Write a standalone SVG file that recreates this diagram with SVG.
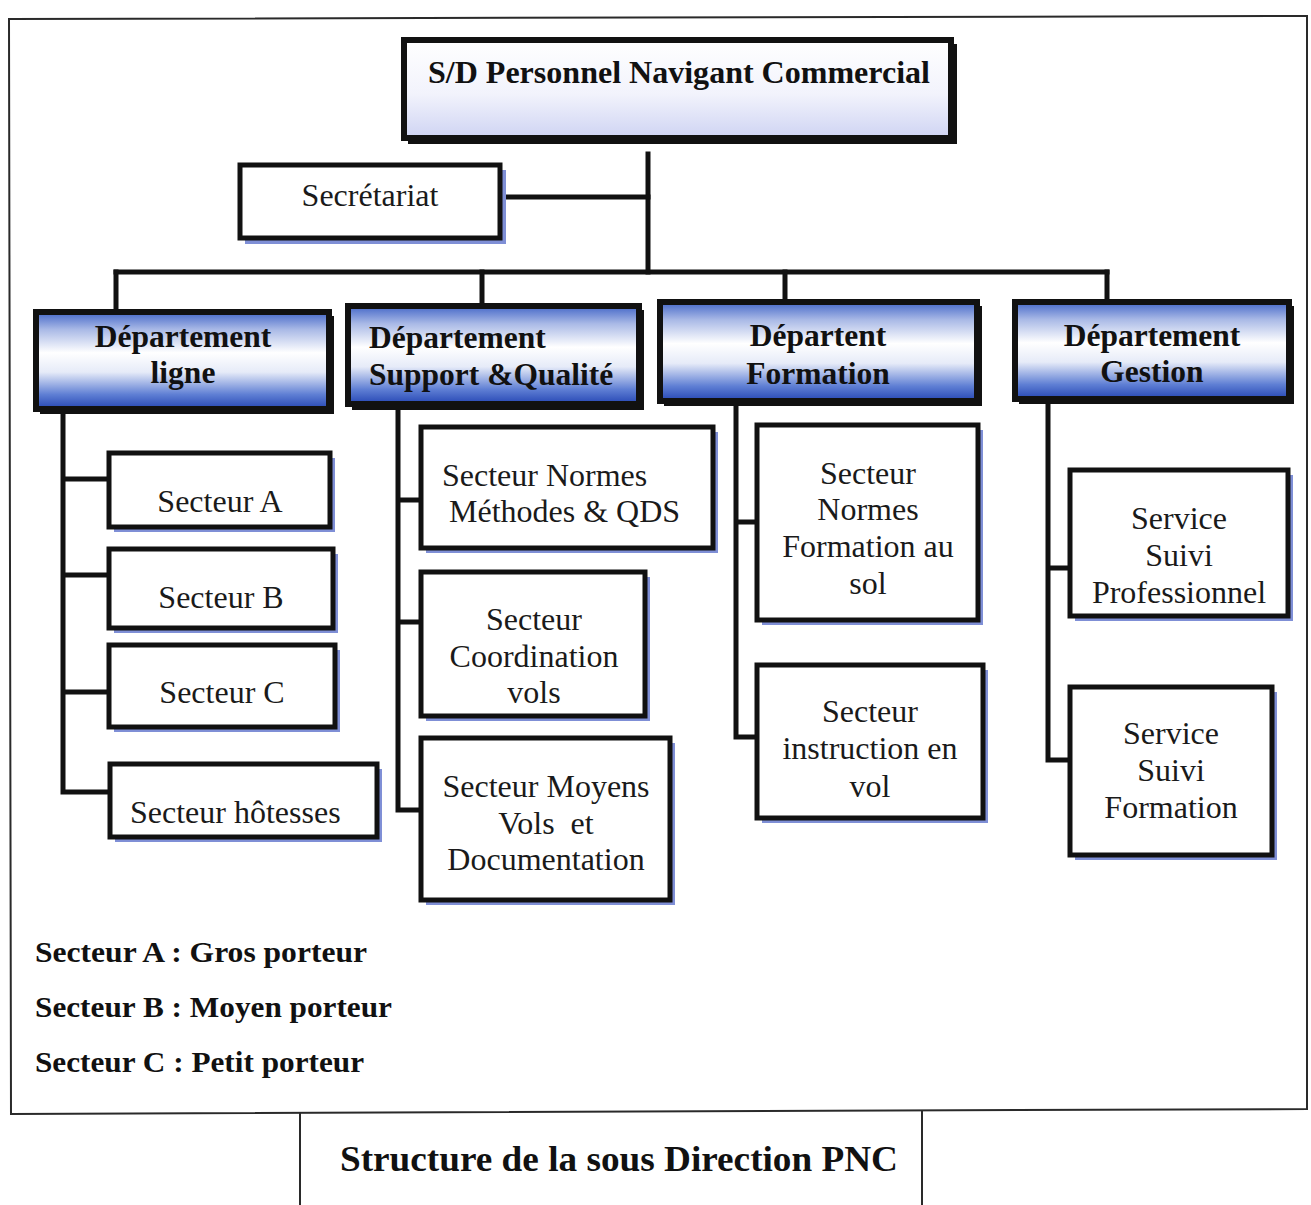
<svg xmlns="http://www.w3.org/2000/svg" width="1311" height="1205" viewBox="0 0 1311 1205">
  <defs>
    <linearGradient id="gTop" x1="0" y1="0" x2="0" y2="1">
      <stop offset="0" stop-color="#ffffff"/>
      <stop offset="0.55" stop-color="#f2f3fc"/>
      <stop offset="1" stop-color="#cfd4f3"/>
    </linearGradient>
    <linearGradient id="gDept" x1="0" y1="0" x2="0" y2="1">
      <stop offset="0" stop-color="#4467c8"/>
      <stop offset="0.18" stop-color="#a9b9e6"/>
      <stop offset="0.42" stop-color="#ffffff"/>
      <stop offset="0.62" stop-color="#e6ebf8"/>
      <stop offset="0.85" stop-color="#5f7fd4"/>
      <stop offset="1" stop-color="#2546b4"/>
    </linearGradient>
    <style>
      .frame { fill: none; stroke: #2a2a2a; stroke-width: 2; }
      .shadow { fill: #7f8fd6; }
      .dshadow { fill: #111; }
      .box { fill: #ffffff; stroke: #111; stroke-width: 5; }
      .dept { fill: url(#gDept); stroke: #111; stroke-width: 6; }
      .head { fill: url(#gTop); stroke: #111; stroke-width: 6; }
      .link { fill: none; stroke: #111; stroke-width: 5; stroke-linecap: square; }
      .bold { font-family: "Liberation Serif", "Times New Roman", serif; font-weight: bold; fill: #111; }
      .dtxt { font-size: 31.5px; }
      .reg { font-family: "Liberation Serif", "Times New Roman", serif; font-size: 32px; fill: #1a1a1a; }
      .c { text-anchor: middle; }
    </style>
  </defs>

  <rect width="1311" height="1205" fill="#ffffff"/>

  <!-- page frame and caption cell -->
  <path class="frame" d="M9 19 L1307 16 L1307 1109 L11 1114 Z"/>
  <path class="frame" d="M300 1113 L300 1205 M922 1111 L922 1205"/>

  <!-- connectors -->
  <g id="connectors">
    <path class="link" d="M648 154 L648 272"/>
    <path class="link" d="M500 197 L648 197"/>
    <path class="link" d="M116 272 L1107 272"/>
    <path class="link" d="M116 272 L116 312 M482 272 L482 306 M785 272 L785 302 M1107 272 L1107 302"/>
    <!-- Département ligne -->
    <path class="link" d="M63 410 L63 792 M63 479 L109 479 M63 575 L109 575 M63 692 L109 692 M63 792 L110 792"/>
    <!-- Département Support & Qualité -->
    <path class="link" d="M398 406 L398 810 M398 500 L421 500 M398 622 L421 622 M398 810 L421 810"/>
    <!-- Départent Formation -->
    <path class="link" d="M736 404 L736 737 M736 522 L757 522 M736 737 L757 737"/>
    <!-- Département Gestion -->
    <path class="link" d="M1048 402 L1048 760 M1048 568 L1070 568 M1048 760 L1070 760"/>
  </g>

  <!-- head -->
  <g id="n-head">
    <rect class="dshadow" x="408" y="44" width="549" height="100"/>
    <rect class="head" x="404" y="40" width="547" height="98"/>
    <text class="bold c" x="679" y="83" font-size="32" textLength="502" lengthAdjust="spacingAndGlyphs">S/D Personnel Navigant Commercial</text>
  </g>

  <g id="n-secretariat">
    <rect class="shadow" x="245" y="170" width="261" height="74"/>
    <rect class="box" x="240" y="165" width="260" height="73"/>
    <text class="reg c" x="370" y="206">Secrétariat</text>
  </g>

  <!-- departments -->
  <g id="n-dept-ligne">
    <rect class="dshadow" x="40" y="316" width="294" height="98"/>
    <rect class="dept" x="36" y="312" width="293" height="97"/>
    <text class="bold dtxt c" x="183" y="347">Département</text>
    <text class="bold dtxt c" x="183" y="383">ligne</text>
  </g>
  <g id="n-dept-support">
    <rect class="dshadow" x="352" y="310" width="292" height="100"/>
    <rect class="dept" x="348" y="306" width="291" height="98"/>
    <text class="bold dtxt" x="369" y="348">Département</text>
    <text class="bold dtxt" x="369" y="385">Support &amp;Qualité</text>
  </g>
  <g id="n-dept-formation">
    <rect class="dshadow" x="664" y="306" width="318" height="100"/>
    <rect class="dept" x="660" y="302" width="317" height="99"/>
    <text class="bold dtxt c" x="818" y="346">Départent</text>
    <text class="bold dtxt c" x="818" y="384">Formation</text>
  </g>
  <g id="n-dept-gestion">
    <rect class="dshadow" x="1019" y="306" width="275" height="98"/>
    <rect class="dept" x="1015" y="302" width="274" height="97"/>
    <text class="bold dtxt c" x="1152" y="346">Département</text>
    <text class="bold dtxt c" x="1152" y="382">Gestion</text>
  </g>

  <!-- Département ligne : secteurs -->
  <g id="n-secteur-a">
    <rect class="shadow" x="114" y="458" width="221" height="74"/>
    <rect class="box" x="109" y="453" width="221" height="74"/>
    <text class="reg c" x="220" y="512">Secteur A</text>
  </g>
  <g id="n-secteur-b">
    <rect class="shadow" x="114" y="554" width="224" height="79"/>
    <rect class="box" x="109" y="549" width="224" height="79"/>
    <text class="reg c" x="221" y="608">Secteur B</text>
  </g>
  <g id="n-secteur-c">
    <rect class="shadow" x="114" y="650" width="226" height="82"/>
    <rect class="box" x="109" y="645" width="226" height="82"/>
    <text class="reg c" x="222" y="703">Secteur C</text>
  </g>
  <g id="n-secteur-hotesses">
    <rect class="shadow" x="115" y="769" width="267" height="73"/>
    <rect class="box" x="110" y="764" width="267" height="73"/>
    <text class="reg" x="130" y="823">Secteur hôtesses</text>
  </g>

  <!-- Département Support & Qualité : secteurs -->
  <g id="n-secteur-normes-qds">
    <rect class="shadow" x="426" y="432" width="292" height="121"/>
    <rect class="box" x="421" y="427" width="292" height="121"/>
    <text class="reg" x="442" y="486">Secteur Normes</text>
    <text class="reg" x="449" y="522">Méthodes &amp; QDS</text>
  </g>
  <g id="n-secteur-coordination">
    <rect class="shadow" x="426" y="577" width="224" height="144"/>
    <rect class="box" x="421" y="572" width="224" height="144"/>
    <text class="reg c" x="534" y="630">Secteur</text>
    <text class="reg c" x="534" y="667">Coordination</text>
    <text class="reg c" x="534" y="703">vols</text>
  </g>
  <g id="n-secteur-moyens">
    <rect class="shadow" x="426" y="743" width="249" height="162"/>
    <rect class="box" x="421" y="738" width="249" height="162"/>
    <text class="reg c" x="546" y="797">Secteur Moyens</text>
    <text class="reg c" x="546" y="834" xml:space="preserve">Vols  et</text>
    <text class="reg c" x="546" y="870">Documentation</text>
  </g>

  <!-- Départent Formation : secteurs -->
  <g id="n-secteur-formation-sol">
    <rect class="shadow" x="762" y="430" width="221" height="195"/>
    <rect class="box" x="757" y="425" width="221" height="195"/>
    <text class="reg c" x="868" y="484">Secteur</text>
    <text class="reg c" x="868" y="520">Normes</text>
    <text class="reg c" x="868" y="557">Formation au</text>
    <text class="reg c" x="868" y="594">sol</text>
  </g>
  <g id="n-secteur-instruction">
    <rect class="shadow" x="762" y="670" width="226" height="153"/>
    <rect class="box" x="757" y="665" width="226" height="153"/>
    <text class="reg c" x="870" y="722">Secteur</text>
    <text class="reg c" x="870" y="759">instruction en</text>
    <text class="reg c" x="870" y="797">vol</text>
  </g>

  <!-- Département Gestion : services -->
  <g id="n-service-professionnel">
    <rect class="shadow" x="1075" y="475" width="218" height="146"/>
    <rect class="box" x="1070" y="470" width="218" height="146"/>
    <text class="reg c" x="1179" y="529">Service</text>
    <text class="reg c" x="1179" y="566">Suivi</text>
    <text class="reg c" x="1179" y="603">Professionnel</text>
  </g>
  <g id="n-service-formation">
    <rect class="shadow" x="1075" y="692" width="202" height="168"/>
    <rect class="box" x="1070" y="687" width="202" height="168"/>
    <text class="reg c" x="1171" y="744">Service</text>
    <text class="reg c" x="1171" y="781">Suivi</text>
    <text class="reg c" x="1171" y="818">Formation</text>
  </g>

  <!-- legend -->
  <g id="legend">
    <text class="bold" x="35" y="962" font-size="29" textLength="332" lengthAdjust="spacingAndGlyphs">Secteur A : Gros porteur</text>
    <text class="bold" x="35" y="1017" font-size="29" textLength="357" lengthAdjust="spacingAndGlyphs">Secteur B : Moyen porteur</text>
    <text class="bold" x="35" y="1072" font-size="29" textLength="329" lengthAdjust="spacingAndGlyphs">Secteur C : Petit porteur</text>
  </g>

  <!-- caption -->
  <text class="bold" x="340" y="1171" font-size="36" textLength="558" lengthAdjust="spacingAndGlyphs">Structure de la sous Direction PNC</text>
</svg>
